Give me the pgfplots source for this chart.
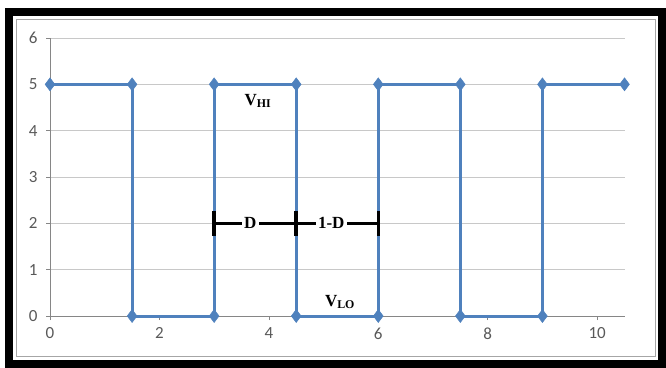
\documentclass[border=0pt]{standalone}
\usepackage{fontspec}
\setmainfont{Carlito}
\newfontfamily\tnr{Liberation Serif}
\usepackage{pgfplots}
\pgfplotsset{compat=1.18}
\definecolor{xlblue}{HTML}{4F81BD}
\definecolor{axgray}{HTML}{868686}
\definecolor{gridgray}{HTML}{C8C8C8}
\definecolor{lblgray}{HTML}{595959}
\begin{document}
\begin{tikzpicture}
\path[use as bounding box] (0pt,0pt) rectangle (666pt,-367pt);
\draw[black, line width=8pt] (9pt,-11.5pt) rectangle (662pt,-363.5pt);
\draw[gray!70, line width=1pt] (16.5pt,-19pt) rectangle (655pt,-356pt);
\begin{axis}[
  at={(50pt,-316pt)}, anchor=south west,
  scale only axis, width=574.5pt, height=278pt,
  xmin=0, xmax=10.5, ymin=0, ymax=6,
  xtick={0,2,4,6,8,10}, ytick={0,1,2,3,4,5,6},
  axis lines=left,
  axis line style={-, axgray, line width=0.9pt},
  tick style={axgray, line width=0.7pt},
  tick align=outside, major tick length=4pt,
  ymajorgrids, grid style={gridgray, line width=0.9pt},
  tick label style={font=\fontsize{17}{19}\selectfont, text=lblgray},
  /pgf/number format/assume math mode=true,
  xticklabel style={yshift=-4pt},
  yticklabel style={xshift=-5pt},
  clip=false,
]
\addplot[xlblue, line width=3pt, mark=diamond*, mark size=6.5pt,
  mark options={fill=xlblue, draw=xlblue, line width=0.5pt}]
  coordinates {(0,5) (1.5,5) (1.5,0) (3,0) (3,5) (4.5,5) (4.5,0) (6,0) (6,5) (7.5,5) (7.5,0) (9,0) (9,5) (10.5,5)};
\draw[black, line width=3pt] (axis cs:3,2) -- (axis cs:6,2);
\draw[black, line width=3.5pt] (axis cs:3,1.73) -- (axis cs:3,2.27);
\draw[black, line width=3.5pt] (axis cs:4.5,1.73) -- (axis cs:4.5,2.27);
\draw[black, line width=3.5pt] (axis cs:6,1.73) -- (axis cs:6,2.27);
\node[fill=white, inner sep=2.5pt, font=\tnr\bfseries\fontsize{17}{19}\selectfont] at (axis cs:3.66,2) {D};
\node[fill=white, inner sep=2.5pt, font=\tnr\bfseries\fontsize{17}{19}\selectfont] at (axis cs:5.14,2) {1-D};
\node[font=\tnr\bfseries\fontsize{17}{19}\selectfont] at (axis cs:3.8,4.64) {V\textsubscript{HI}};
\node[font=\tnr\bfseries\fontsize{17}{19}\selectfont] at (axis cs:5.3,0.3) {V\textsubscript{LO}};
\end{axis}
\end{tikzpicture}
\end{document}
